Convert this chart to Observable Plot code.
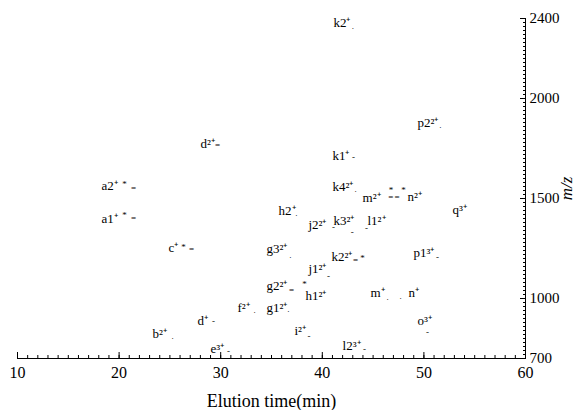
<!DOCTYPE html>
<html>
<head>
<meta charset="utf-8">
<script src="https://cdn.jsdelivr.net/npm/d3@7"></script>
<script src="https://cdn.jsdelivr.net/npm/@observablehq/plot@0.6"></script>
<style>
  html, body { margin: 0; padding: 0; background: white; }
  #chart svg [aria-label="y-axis label"] text { font-style: italic; }
</style>
</head>
<body>
<div id="chart"></div>
<script>
// Peak labels (text position in data units: elution time, m/z)
const labels = ["k2⁺","p2²⁺","d²⁺","k1⁺","a2⁺","k4²⁺","m²⁺","n²⁺","h2⁺","q³⁺",
  "j2²⁺","k3²⁺","l1²⁺","a1⁺","c⁺","g3²⁺","p1³⁺","k2²⁺","j1²⁺","g2²⁺",
  "h1²⁺","m⁺","n⁺","f²⁺","g1²⁺","d⁺","o³⁺","b²⁺","i²⁺","e³⁺","l2³⁺"];
const labelTime = [41.1,49.37,28.01,41.0,18.27,41.0,43.96,48.39,35.69,52.81,
  38.64,41.1,44.45,18.27,24.86,34.51,48.98,40.91,38.64,34.51,
  38.35,44.74,48.48,31.65,34.51,27.72,49.37,23.29,37.26,29.0,41.99];
const labelMz = [2380,1880,1775,1715,1565,1560,1505,1510,1440,1445,
  1370,1390,1390,1400,1255,1250,1230,1210,1150,1065,
  1015,1030,1030,955,955,890,890,825,840,750,765];

// Peak markers (elution time, m/z, glyph)
const markerTime = [43.0,51.63,29.69,43.07,20.53,21.42,43.27,46.75,47.35,46.75,48.0,
  37.46,41.1,42.95,44.35,20.53,21.42,26.34,27.13,36.87,51.34,43.27,43.96,
  40.61,36.97,38.25,46.42,47.7,33.33,36.67,29.29,50.35,25.26,38.7,30.77,44.15];
const markerMz = [2360,1865,1765,1705,1570,1550,1545,1505,1505,1540,1540,
  1425,1355,1330,1350,1415,1400,1255,1245,1215,1205,1190,1200,
  1110,1040,1070,1005,1010,940,945,885,830,810,810,735,745];
const markerGlyph = [".",".","=","-","*","=",".","=","=","*","*",
  ".","-","-","-","*","=","*","=",".","-","=","*",
  "-","=","*",".",".",".",".","-","-",".","-","-","-"];

const xMajor = [10,20,30,40,50,60];
const xMinor = d3.range(10,61,1);
const yMajor = [700,1000,1500,2000,2400];
const yMinor = d3.range(700,2401,20);

const labelData = labels.map((t,i) => ({t, x: labelTime[i], y: labelMz[i]}));
const markerData = markerGlyph.map((g,i) => ({g, x: markerTime[i], y: markerMz[i]}));

const font = "'Liberation Serif', 'Times New Roman', serif";
const chart = Plot.plot({
  width: 584, height: 410,
  marginLeft: 17, marginRight: 59, marginTop: 18, marginBottom: 52,
  style: {fontFamily: font, fontSize: "15px", background: "white", color: "black", overflow: "visible"},
  x: {domain: [10, 60]},
  y: {domain: [700, 2400]},
  marks: [
    Plot.axisX({ticks: xMinor, tickSize: -3, tickFormat: () => "", label: null}),
    Plot.axisX({ticks: xMajor, tickSize: -6, tickFormat: () => "", label: null}),
    Plot.axisX({ticks: xMajor, tickSize: 0, tickPadding: 8, fontSize: 16, label: null}),
    Plot.axisX({ticks: [], tickSize: 0, fontSize: 18,
      label: "Elution time(min)", labelAnchor: "center", labelArrow: "none", labelOffset: 48}),
    Plot.axisY({anchor: "right", ticks: yMinor, tickSize: -3, tickFormat: () => "", label: null}),
    Plot.axisY({anchor: "right", ticks: yMajor, tickSize: -6, tickFormat: () => "", label: null}),
    Plot.axisY({anchor: "right", ticks: yMajor, tickSize: 0, tickPadding: 4, fontSize: 15,
      tickFormat: d => String(d), label: null}),
    Plot.axisY({anchor: "right", ticks: [], tickSize: 0, fontSize: 17,
      label: "m/z", labelAnchor: "center", labelArrow: "none", labelOffset: 46}),
    Plot.ruleY([700], {stroke: "black"}),
    Plot.ruleX([60], {stroke: "black"}),
    Plot.text(labelData, {x: "x", y: "y", text: "t", textAnchor: "start", lineAnchor: "middle", fontSize: 13, fill: "black"}),
    Plot.text(markerData, {x: "x", y: "y", text: "g", textAnchor: "middle", lineAnchor: "middle", fontSize: 9, fill: "black"})
  ]
});
document.getElementById("chart").appendChild(chart);
</script>
</body>
</html>
